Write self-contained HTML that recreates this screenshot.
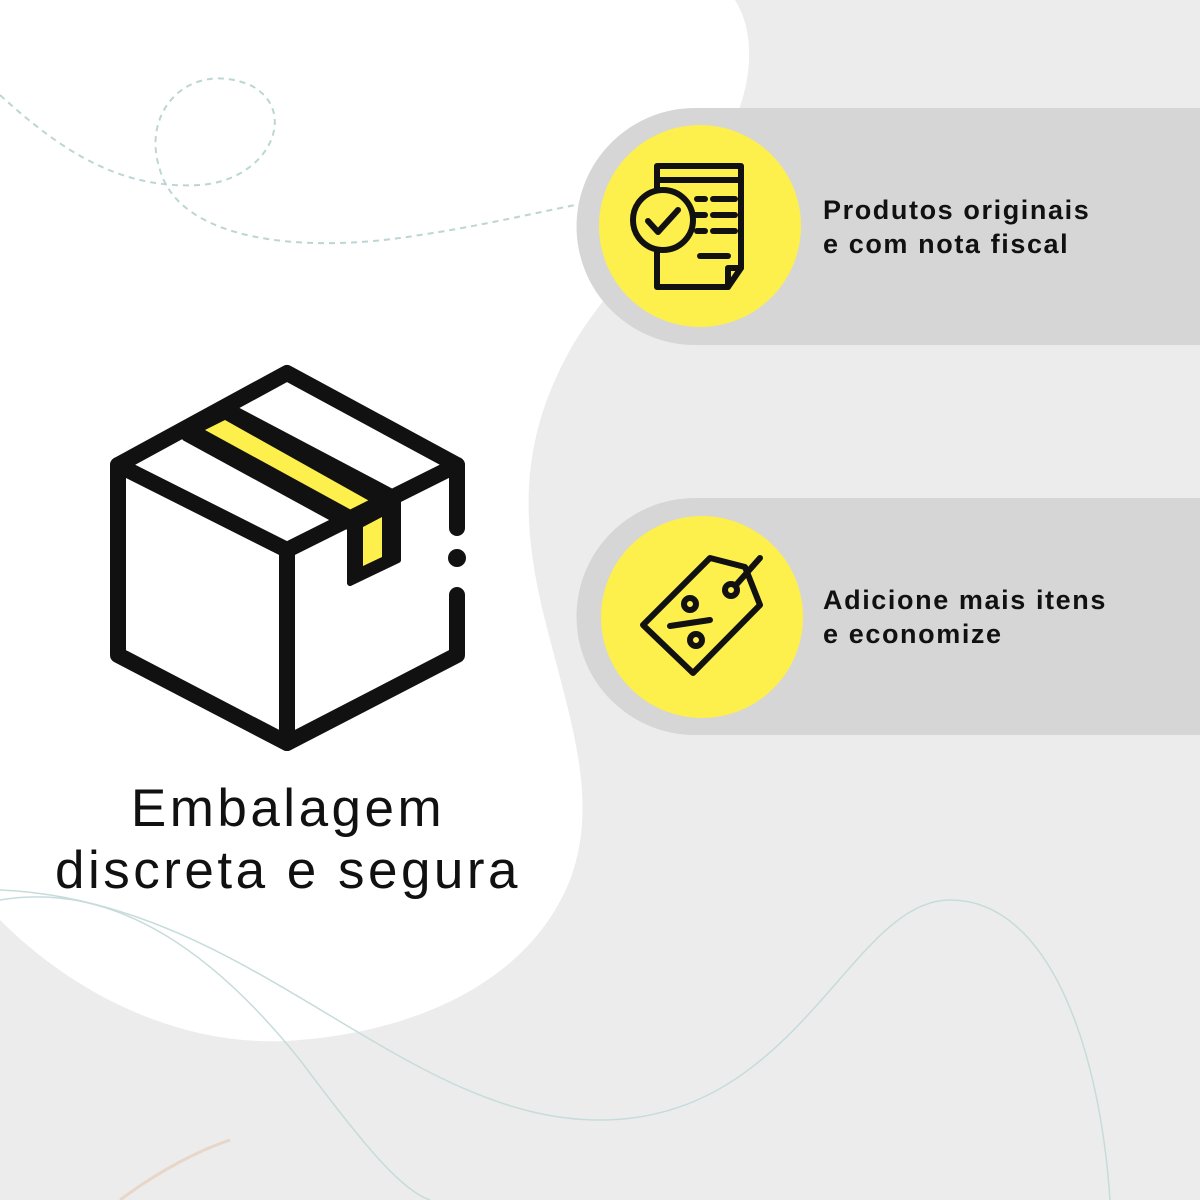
<!DOCTYPE html>
<html><head><meta charset="utf-8"><style>
body{margin:0;width:1200px;height:1200px;overflow:hidden;background:#ececec;font-family:"Liberation Sans",sans-serif}
.t{position:absolute;font-weight:bold;font-size:27px;line-height:34px;color:#111;letter-spacing:1.6px}
</style></head><body>
<svg width="1200" height="1200" style="position:absolute;left:0;top:0">
<path d="M0 0 H735 C760 40 750 100 720 150 C680 220 610 280 570 350 C520 440 520 520 545 620 C570 720 600 800 570 880 C530 980 420 1030 300 1040 C190 1050 80 1000 0 920 Z" fill="#fff"/>
<path d="M0 95 C60 150 120 190 200 185 C270 180 300 110 250 85 C190 60 140 110 160 170 C180 240 300 255 420 235 C520 220 600 195 700 185 C850 175 1050 150 1200 230" fill="none" stroke="#bcd6d4" stroke-width="2" stroke-dasharray="6 5"/>
<path d="M0 900 C120 880 220 960 300 1060 C360 1140 400 1190 430 1200" fill="none" stroke="#c7dbdb" stroke-width="1.5"/>
<path d="M0 890 C250 900 400 1120 600 1120 C800 1120 850 900 950 900 C1050 900 1100 1050 1110 1200" fill="none" stroke="#c7dbdb" stroke-width="1.5"/>
<path d="M120 1200 C160 1170 200 1150 230 1140" fill="none" stroke="#e8d6c8" stroke-width="3"/>
<path d="M695 108 H1200 V345 H695 A118.5 118.5 0 0 1 695 108 Z" fill="#d6d6d6"/>
<path d="M695 498 H1200 V735 H695 A118.5 118.5 0 0 1 695 498 Z" fill="#d6d6d6"/>
<circle cx="700" cy="226" r="101" fill="#fdef4c"/>
<circle cx="702" cy="617" r="101" fill="#fdef4c"/>
<!-- doc icon -->
<g fill="none" stroke="#111" stroke-width="6" stroke-linecap="round" stroke-linejoin="round">
<path d="M657 190 V166 H741 V268 L728 287 H657 V250"/>
<path d="M741 268 H728 V287"/>
<line x1="657" y1="180" x2="741" y2="180"/>
<circle cx="663" cy="220" r="30" fill="#fdef4c"/>
<path d="M648 221 L658 232 L678 210"/>
<line x1="697" y1="199" x2="705" y2="199"/><line x1="713" y1="199" x2="735" y2="199"/>
<line x1="695" y1="215" x2="705" y2="215"/><line x1="713" y1="215" x2="735" y2="215"/>
<line x1="697" y1="231" x2="705" y2="231"/><line x1="713" y1="231" x2="735" y2="231"/>
<line x1="700" y1="256" x2="728" y2="256"/>
</g>
<!-- tag icon -->
<g fill="none" stroke="#111" stroke-width="6" stroke-linecap="round" stroke-linejoin="round">
<path d="M710 558 L745 567 L760 605 L693 673 L643 625 Z"/>
<circle cx="690" cy="604" r="6"/>
<circle cx="696" cy="640" r="6"/>
<line x1="670" y1="626" x2="710" y2="620"/>
<circle cx="731" cy="590" r="6"/>
<line x1="736" y1="585" x2="760" y2="558"/>
</g>
<!-- box -->
<path d="M118 465 L287 373 L457 465 L287 550 Z" fill="#fff"/>
<path d="M185 438 L237 410 L398 495 L398 560 L350 583 L350 528 Z" fill="#111" stroke="#111" stroke-width="6" stroke-linejoin="round"/>
<path d="M205 430 L225 420 L373 503 L355 512 Z" fill="#fdef4c"/>
<path d="M363 527 L382 517 L382 557 L363 566 Z" fill="#fdef4c"/>
<g fill="none" stroke="#111" stroke-width="16" stroke-linecap="round" stroke-linejoin="round">
<path d="M118 465 L287 373 L457 465 L287 550 Z"/>
<path d="M118 465 V655 L287 743 L457 655 V595"/>
<path d="M457 465 V528"/>
<line x1="287" y1="550" x2="287" y2="743"/>
</g>
<circle cx="457" cy="558" r="9" fill="#111"/>
</svg>
<div class="t" style="left:823px;top:193px">Produtos originais<br>e com nota fiscal</div>
<div class="t" style="left:823px;top:583px">Adicione mais itens<br>e economize</div>
<div style="position:absolute;left:0;width:576px;top:778px;text-align:center;font-size:53px;line-height:62px;color:#111;letter-spacing:3.5px">Embalagem<br>discreta e segura</div>
</body></html>
